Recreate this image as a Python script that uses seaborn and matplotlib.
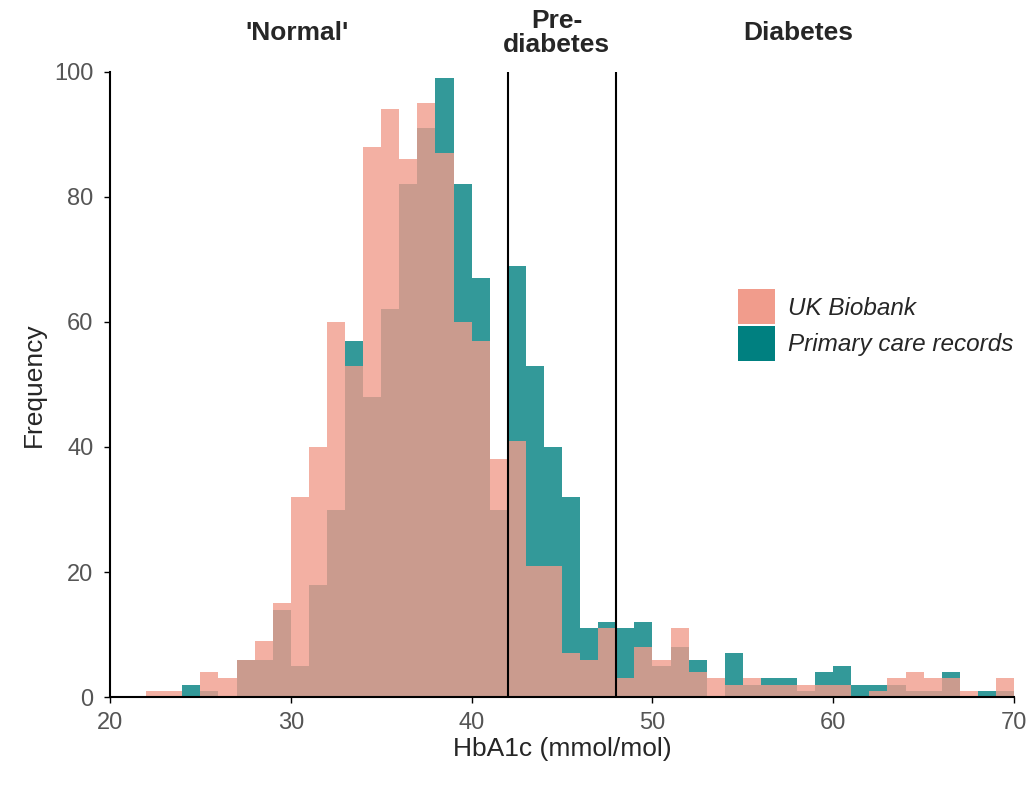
import numpy as np
import pandas as pd
import matplotlib
matplotlib.use("Agg")
import matplotlib.pyplot as plt
from matplotlib.patches import Patch
import seaborn as sns

# Bin left edges (width 1 mmol/mol)
bin_left = list(range(22, 70))
uk_biobank = [1, 1, 0, 4, 3, 6, 9, 15, 32, 40, 60, 53, 88, 94, 86, 95, 87, 60, 57, 38,
              41, 21, 21, 7, 6, 11, 3, 8, 6, 11, 4, 3, 2, 3, 2, 2, 2, 2, 2, 0,
              1, 3, 4, 3, 3, 1, 0, 3]
primary_care = [0, 0, 2, 1, 0, 6, 6, 14, 5, 18, 30, 57, 48, 62, 82, 91, 99, 82, 67, 30,
                69, 53, 40, 32, 11, 12, 11, 12, 5, 8, 6, 0, 7, 2, 3, 3, 1, 4, 5, 2,
                2, 2, 1, 1, 4, 0, 1, 1]
series_names = ["UK Biobank", "Primary care records"]
thresholds = [42, 48]
region_labels = ["'Normal'", "Pre-\ndiabetes", "Diabetes"]
region_x = [30.35, 44.7, 58.05]
x_ticks = [20, 30, 40, 50, 60, 70]
y_ticks = [0, 20, 40, 60, 80, 100]

pink = "#F19C8C"
teal = "#008080"

sns.set_style("ticks")
plt.rcParams["font.family"] = ["Liberation Sans", "DejaVu Sans"]

fig = plt.figure(figsize=(10.32, 7.9), dpi=100)
ax = fig.add_axes([0.1066, 0.1177, 0.876, 0.7912])

centers = np.array(bin_left) + 0.5
df_pc = pd.DataFrame({"x": centers, "w": primary_care})
df_uk = pd.DataFrame({"x": centers, "w": uk_biobank})

sns.histplot(data=df_pc, x="x", weights="w", binwidth=1, binrange=(22, 70),
             color=teal, alpha=0.8, linewidth=0, ax=ax)
sns.histplot(data=df_uk, x="x", weights="w", binwidth=1, binrange=(22, 70),
             color=pink, alpha=0.8, linewidth=0, ax=ax)

for t in thresholds:
    ax.axvline(t, color="black", linewidth=1.5, zorder=5)

ax.set_xlim(20, 70)
ax.set_ylim(0, 100)
ax.set_xticks(x_ticks)
ax.set_yticks(y_ticks)
ax.tick_params(axis="both", labelsize=17, labelcolor="#555555", color="black",
               length=4, width=1)
ax.tick_params(axis="y", pad=8)
ax.tick_params(axis="x", pad=7)
ax.set_xlabel("HbA1c (mmol/mol)", fontsize=19, labelpad=2)
ax.set_ylabel("Frequency", fontsize=19, labelpad=6)
sns.despine(ax=ax)
for s in ["left", "bottom"]:
    ax.spines[s].set_linewidth(1.5)
    ax.spines[s].set_color("black")

for lab, xv in zip(region_labels, region_x):
    ax.text(xv, 1.063, lab, transform=ax.get_xaxis_transform(), ha="center",
            va="center", fontsize=19, fontweight="bold", linespacing=1.0)

handles = [Patch(facecolor=pink, edgecolor="none"), Patch(facecolor=teal, edgecolor="none")]
leg = ax.legend(handles, series_names, loc="upper left", bbox_to_anchor=(0.684, 0.668),
                frameon=False, fontsize=17.5, handlelength=1.5, handleheight=1.85,
                labelspacing=0.05, handletextpad=0.55, borderaxespad=0)
for txt in leg.get_texts():
    txt.set_fontstyle("italic")

fig.savefig("out.png", dpi=100)
